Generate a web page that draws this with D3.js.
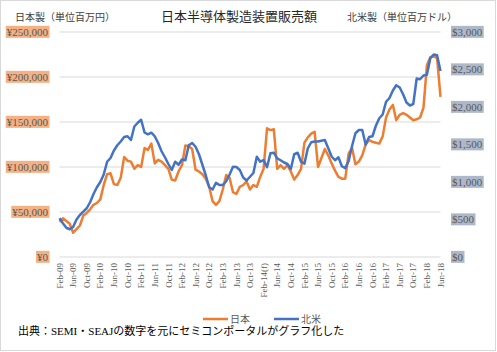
<!DOCTYPE html>
<html>
<head>
<meta charset="utf-8">
<script src="https://cdn.jsdelivr.net/npm/d3@7"></script>
<style>
body { margin: 0; background: #fff; }
text { font-family: "Liberation Serif", "Noto Sans CJK JP", serif; }
</style>
</head>
<body>
<div id="chart"></div>
<script>
//monthly categories Feb-09 .. Jun-18
const months = d3.timeMonth.range(new Date(2009, 1, 1), new Date(2018, 6, 1));

//tick labels, every 4th month
const tickLabels = ["Feb-09","Jun-09","Oct-09","Feb-10","Jun-10","Oct-10","Feb-11","Jun-11","Oct-11",
	"Feb-12","Jun-12","Oct-12","Feb-13","Jun-13","Oct-13","Feb-14(f)","Jun-14","Oct-14","Feb-15",
	"Jun-15","Oct-15","Feb-16","Jun-16","Oct-16","Feb-17","Jun-17","Oct-17","Feb-18","Jun-18"];

//Japan, million yen
const japan = [39000,43000,40000,37000,27000,31000,35000,46000,49000,53000,
	58000,60000,64000,80000,92000,93000,81000,80000,88000,111000,
	107000,106000,98000,102000,100000,121000,119000,126000,104000,108000,
	106000,102000,98000,86000,85000,95000,102000,124000,123000,120000,
	97000,95000,92000,87000,78000,62000,58000,62000,75000,91000,
	88000,72000,70000,78000,80000,84000,75000,80000,78000,89000,
	98000,143000,141000,142000,98000,102000,98000,102000,95000,86000,
	91000,98000,127000,133000,137000,139000,100000,110000,120000,113000,
	104000,96000,89000,87000,87000,115000,121000,103000,106000,113000,
	125000,130000,128000,127000,126000,134000,155000,164000,169000,152000,
	158000,160000,158000,155000,152000,153000,155000,166000,213000,222000,
	223000,221000,178000];

//North America, million dollars
const northAmerica = [516,450,390,370,400,500,560,604,650,730,
	840,930,1000,1100,1270,1320,1420,1490,1540,1600,
	1610,1560,1740,1790,1830,1660,1636,1658,1610,1520,
	1410,1330,1240,1160,1270,1230,1300,1290,1490,1520,
	1470,1370,1230,1090,930,900,990,960,960,1010,
	1100,1204,1200,1160,1060,1020,1070,1120,1338,1271,
	1293,1196,1382,1391,1316,1290,1260,1240,1173,1370,
	1390,1270,1245,1450,1530,1540,1540,1550,1560,1450,
	1340,1290,1330,1210,1185,1280,1480,1650,1693,1693,
	1500,1600,1610,1750,1850,1900,2070,2120,2220,2290,
	2260,2170,2060,2020,2040,2380,2370,2420,2430,2650,
	2700,2690,2480];

const leftTicks = [0,50000,100000,150000,200000,250000];
const rightTicks = [0,500,1000,1500,2000,2500,3000];

const width = 497, height = 352;
const margin = {top: 32, right: 56.5, bottom: 95, left: 59.5};

const svg = d3.select('#chart').append('svg').attr('width', width).attr('height', height);

//chart border
svg.append('rect')
	.attr('x', 0.5).attr('y', 0.5)
	.attr('width', width - 2).attr('height', height - 2)
	.attr('fill', '#fff').attr('stroke', '#d9d9d9');

const x = d3.scalePoint()
	.domain(d3.range(months.length))
	.range([margin.left, width - margin.right]);
const yL = d3.scaleLinear().domain([0, 250000]).range([height - margin.bottom, margin.top]);
const yR = d3.scaleLinear().domain([0, 3000]).range([height - margin.bottom, margin.top]);

//gridlines
svg.append('g')
	.selectAll('line')
	.data(leftTicks)
	.enter().append('line')
	.attr('x1', margin.left).attr('x2', width - margin.right)
	.attr('y1', d => yL(d)).attr('y2', d => yL(d))
	.attr('stroke', '#d9d9d9').attr('stroke-width', 1);

//tick label with coloured box behind
const boxLabel = (g, tx, ty, anchor, str, bg) => {
	const t = g.append('text')
		.attr('x', tx).attr('y', ty)
		.attr('dy', '0.35em')
		.attr('text-anchor', anchor)
		.attr('font-size', 11)
		.attr('fill', '#595959')
		.text(str);
	const b = t.node().getBBox();
	g.insert('rect', 'text')
		.attr('x', b.x - 1).attr('y', b.y)
		.attr('width', b.width + 2).attr('height', b.height)
		.attr('fill', bg);
};

const leftAxis = svg.append('g');
leftTicks.forEach(v => boxLabel(leftAxis, 48, yL(v), 'end', '¥' + d3.format(',')(v), '#f4b183'));
const rightAxis = svg.append('g');
rightTicks.forEach(v => boxLabel(rightAxis, 452, yR(v), 'start', '$' + d3.format(',')(v), '#adb9ca'));

//x labels, rotated
svg.append('g')
	.selectAll('text')
	.data(tickLabels)
	.enter().append('text')
	.attr('transform', (d, i) => `translate(${x(i * 4)},263) rotate(-90)`)
	.attr('dy', '0.35em')
	.attr('text-anchor', 'end')
	.attr('font-size', 9)
	.attr('fill', '#595959')
	.text(d => d);

//lines
const lineL = d3.line().x((d, i) => x(i)).y(d => yL(d));
const lineR = d3.line().x((d, i) => x(i)).y(d => yR(d));

svg.append('path')
	.datum(japan)
	.attr('d', lineL)
	.attr('fill', 'none')
	.attr('stroke', '#ed7d31')
	.attr('stroke-width', 2.5)
	.attr('stroke-linejoin', 'round');

svg.append('path')
	.datum(northAmerica)
	.attr('d', lineR)
	.attr('fill', 'none')
	.attr('stroke', '#4472c4')
	.attr('stroke-width', 2.5)
	.attr('stroke-linejoin', 'round');

//titles
svg.append('text')
	.attr('x', 239).attr('y', 16)
	.attr('dy', '0.35em')
	.attr('text-anchor', 'middle')
	.attr('font-size', 13)
	.attr('fill', '#262626')
	.text('日本半導体製造装置販売額');

svg.append('text')
	.attr('x', 15).attr('y', 17)
	.attr('dy', '0.35em')
	.attr('font-size', 10)
	.attr('fill', '#404040')
	.text('日本製（単位百万円）');

svg.append('text')
	.attr('x', 347).attr('y', 17)
	.attr('dy', '0.35em')
	.attr('font-size', 10)
	.attr('fill', '#404040')
	.text('北米製（単位百万ドル）');

//legend
const legendData = [
	{name: '日本', color: '#ed7d31', x: 203},
	{name: '北米', color: '#4472c4', x: 274}
];
const legend = svg.append('g')
	.selectAll('g')
	.data(legendData)
	.enter().append('g')
	.attr('transform', d => `translate(${d.x},319)`);
legend.append('line')
	.attr('x1', 0).attr('x2', 25)
	.attr('stroke', d => d.color)
	.attr('stroke-width', 2.5);
legend.append('text')
	.attr('x', 27)
	.attr('dy', '0.35em')
	.attr('font-size', 10)
	.attr('fill', '#595959')
	.text(d => d.name);

//source note
svg.append('text')
	.attr('x', 18).attr('y', 331)
	.attr('dy', '0.35em')
	.attr('font-size', 11)
	.attr('fill', '#000')
	.text('出典：SEMI・SEAJの数字を元にセミコンポータルがグラフ化した');
</script>
</body>
</html>
